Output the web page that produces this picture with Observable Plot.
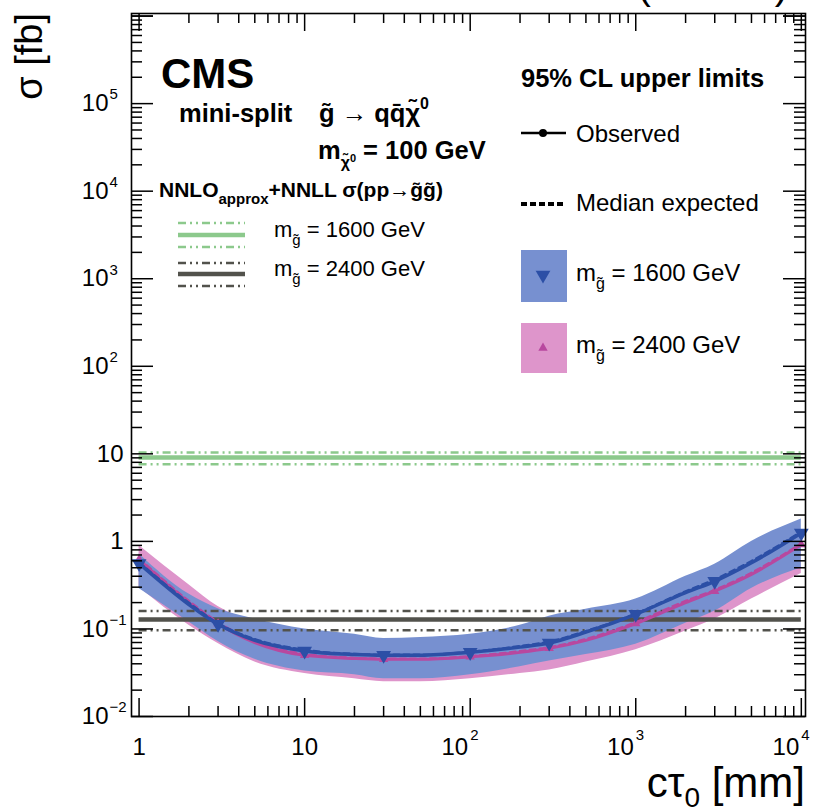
<!DOCTYPE html>
<html><head><meta charset="utf-8">
<script src="https://cdn.jsdelivr.net/npm/d3@7"></script>
<script src="https://cdn.jsdelivr.net/npm/@observablehq/plot@0.6"></script>
<style>
html,body{margin:0;padding:0;background:#fff;}
#chart{position:relative;width:823px;height:809px;overflow:hidden;}
</style></head><body><div id="chart"></div>
<script>
// ---- data ----
const ctau = [1, 2, 3, 5, 10, 20, 30, 50, 100, 200, 300, 500, 1000, 2000, 3000, 5000, 10000];
const markerCtau = [1, 3, 10, 30, 100, 300, 1000, 3000, 10000];
// m_gluino = 1600 GeV
const obs1600 = [0.56, 0.19, 0.113, 0.074, 0.056, 0.051, 0.050, 0.050, 0.054, 0.062, 0.069, 0.092, 0.147, 0.26, 0.35, 0.57, 1.25];
const exp1600 = [0.58, 0.20, 0.117, 0.077, 0.058, 0.052, 0.051, 0.051, 0.055, 0.064, 0.072, 0.095, 0.150, 0.27, 0.37, 0.60, 1.30];
const up1600  = [0.72, 0.25, 0.17, 0.13, 0.10, 0.087, 0.078, 0.080, 0.087, 0.11, 0.14, 0.168, 0.22, 0.40, 0.55, 1.0, 1.8];
const lo1600  = [0.29, 0.12, 0.072, 0.045, 0.033, 0.030, 0.027, 0.027, 0.030, 0.037, 0.043, 0.051, 0.067, 0.116, 0.16, 0.29, 0.50];
// m_gluino = 2400 GeV
const obs2400 = [0.62, 0.20, 0.115, 0.070, 0.050, 0.046, 0.045, 0.045, 0.048, 0.054, 0.060, 0.074, 0.115, 0.20, 0.27, 0.42, 0.92];
const exp2400 = [0.64, 0.21, 0.120, 0.073, 0.052, 0.047, 0.046, 0.046, 0.049, 0.056, 0.062, 0.077, 0.120, 0.21, 0.28, 0.44, 0.95];
const up2400  = [0.90, 0.32, 0.18, 0.12, 0.088, 0.075, 0.070, 0.070, 0.075, 0.090, 0.10, 0.125, 0.18, 0.31, 0.42, 0.68, 1.35];
const lo2400  = [0.30, 0.11, 0.068, 0.042, 0.031, 0.027, 0.025, 0.025, 0.027, 0.031, 0.034, 0.042, 0.058, 0.095, 0.13, 0.22, 0.43];
// NNLO_approx+NNLL cross sections [fb]: central, up, down
const xsec1600 = [9.07, 10.35, 7.63];
const xsec2400 = [0.128, 0.160, 0.0966];
// tick labels
const yTickVals = [1e-2, 1e-1, 1, 10, 1e2, 1e3, 1e4, 1e5];
const yTickBase = ["10", "10", "1", "10", "10", "10", "10", "10"];
const yTickExp  = ["\u22122", "\u22121", "", "", "2", "3", "4", "5"];
const xTickVals = [1, 10, 100, 1000, 10000];
const xTickBase = ["1", "10", "10", "10", "10"];
const xTickExp  = ["", "", "2", "3", "4"];

// ---- styling ----
const BLUE = "#2c4fa6", MAGENTA = "#b8489f", GREEN = "#8cc98c", GRAY = "#52524c";
const BAND_BLUE = "#7790d0", BAND_PINK = "#de95cb";
const W = 823, H = 809, mL = 131, mR = 18, mT = 13, mB = 93;
const innerW = W - mL - mR, innerH = H - mT - mB;
const xDomain = [0.9, 1.06e4], yDomain = [0.01, 1.07e6];

const rows = (o, e, u, l) => ctau.map((c, i) => ({ctau: c, obs: o[i], exp: e[i], up: u[i], lo: l[i]}));
const rows1600 = rows(obs1600, exp1600, up1600, lo1600);
const rows2400 = rows(obs2400, exp2400, up2400, lo2400);
const mk1600 = rows1600.filter(d => markerCtau.includes(d.ctau));
const mk2400 = rows2400.filter(d => markerCtau.includes(d.ctau));

const triDown = {draw(ctx, size) {
  const a = Math.sqrt(4 * size / Math.sqrt(3)), h = Math.sqrt(3) / 2 * a;
  ctx.moveTo(0, 2 * h / 3); ctx.lineTo(-a / 2, -h / 3); ctx.lineTo(a / 2, -h / 3); ctx.closePath();
}};
const triUp = {draw(ctx, size) {
  const a = Math.sqrt(4 * size / Math.sqrt(3)), h = Math.sqrt(3) / 2 * a;
  ctx.moveTo(0, -2 * h / 3); ctx.lineTo(-a / 2, h / 3); ctx.lineTo(a / 2, h / 3); ctx.closePath();
}};

// ticks (all four sides, inside)
const allTicksX = d3.scaleLog().domain(xDomain).ticks().filter(v => v > xDomain[0] && v < xDomain[1]);
const allTicksY = d3.scaleLog().domain(yDomain).ticks().filter(v => v > yDomain[0] && v < yDomain[1]);
const isMajor = v => Math.abs(Math.log10(v) - Math.round(Math.log10(v))) < 1e-9;
const xMaj = [...allTicksX.filter(isMajor)], xMin = allTicksX.filter(v => !isMajor(v));
const yMaj = [1e-2, ...allTicksY.filter(isMajor), 1e6].filter(v => v <= yDomain[1]), yMin = allTicksY.filter(v => !isMajor(v));
const tk = {stroke: "black", strokeWidth: 1.5};
const dash = "8,4,2,4,2,4";
const curve = "monotone-x";

const yRows = yTickVals.map((v, i) => ({v, b: yTickBase[i], e: yTickExp[i]}));
const xRows = xTickVals.map((v, i) => ({v, b: xTickBase[i], e: xTickExp[i]}));

const chart = Plot.plot({
  width: W, height: H, marginLeft: mL, marginRight: mR, marginTop: mT, marginBottom: mB,
  style: {fontFamily: "'Liberation Sans', Arial, Helvetica, sans-serif", background: "white", overflow: "visible"},
  x: {type: "log", domain: xDomain, axis: null},
  y: {type: "log", domain: yDomain, axis: null},
  marks: [
    Plot.areaY(rows2400, {x: "ctau", y1: "lo", y2: "up", fill: BAND_PINK, curve}),
    Plot.areaY(rows1600, {x: "ctau", y1: "lo", y2: "up", fill: BAND_BLUE, curve}),
    Plot.ruleY([xsec1600[0]], {y: d => d, x1: ctau[0], x2: ctau[ctau.length - 1], stroke: GREEN, strokeWidth: 4.5}),
    Plot.ruleY(xsec1600.slice(1), {y: d => d, x1: ctau[0], x2: ctau[ctau.length - 1], stroke: GREEN, strokeWidth: 2.5, strokeDasharray: dash}),
    Plot.ruleY([xsec2400[0]], {y: d => d, x1: ctau[0], x2: ctau[ctau.length - 1], stroke: GRAY, strokeWidth: 4.5}),
    Plot.ruleY(xsec2400.slice(1), {y: d => d, x1: ctau[0], x2: ctau[ctau.length - 1], stroke: GRAY, strokeWidth: 2.5, strokeDasharray: dash}),
    Plot.line(rows2400, {x: "ctau", y: "exp", stroke: MAGENTA, strokeWidth: 2, strokeDasharray: "6,4", curve}),
    Plot.line(rows2400, {x: "ctau", y: "obs", stroke: MAGENTA, strokeWidth: 3, curve}),
    Plot.dot(mk2400, {x: "ctau", y: "obs", symbol: triUp, r: 3.5, fill: MAGENTA, stroke: "none"}),
    Plot.line(rows1600, {x: "ctau", y: "exp", stroke: BLUE, strokeWidth: 2, strokeDasharray: "6,4", curve}),
    Plot.line(rows1600, {x: "ctau", y: "obs", stroke: BLUE, strokeWidth: 3.5, curve}),
    Plot.dot(mk1600, {x: "ctau", y: "obs", symbol: triDown, r: 5.5, fill: BLUE, stroke: "none"}),
    // ticks
    Plot.tickX(xMaj, {x: d => d, insetTop: innerH - 18, ...tk}),
    Plot.tickX(xMin, {x: d => d, insetTop: innerH - 10, ...tk}),
    Plot.tickX(xMaj, {x: d => d, insetBottom: innerH - 18, ...tk}),
    Plot.tickX(xMin, {x: d => d, insetBottom: innerH - 10, ...tk}),
    Plot.tickY(yMaj, {y: d => d, insetRight: innerW - 22, ...tk}),
    Plot.tickY(yMin, {y: d => d, insetRight: innerW - 11, ...tk}),
    Plot.tickY(yMaj, {y: d => d, insetLeft: innerW - 22, ...tk}),
    Plot.tickY(yMin, {y: d => d, insetLeft: innerW - 11, ...tk}),
    Plot.frame({stroke: "black", strokeWidth: 1.6}),
    // tick labels
    Plot.text(yRows.filter(d => d.e), {y: "v", text: "b", frameAnchor: "left", textAnchor: "end", dx: -23, fontSize: 24, fill: "black"}),
    Plot.text(yRows.filter(d => d.e), {y: "v", text: "e", frameAnchor: "left", textAnchor: "start", dx: -22, dy: -9, fontSize: 15, fill: "black"}),
    Plot.text(yRows.filter(d => !d.e), {y: "v", text: "b", frameAnchor: "left", textAnchor: "end", dx: -8, fontSize: 24, fill: "black"}),
    Plot.text(xRows.filter(d => d.e), {x: "v", text: "b", frameAnchor: "bottom", textAnchor: "end", lineAnchor: "top", dx: -2, dy: 21, fontSize: 24, fill: "black"}),
    Plot.text(xRows.filter(d => d.e), {x: "v", text: "e", frameAnchor: "bottom", textAnchor: "start", lineAnchor: "top", dx: 0, dy: 13, fontSize: 15, fill: "black"}),
    Plot.text(xRows.filter(d => !d.e), {x: "v", text: "b", frameAnchor: "bottom", textAnchor: "middle", lineAnchor: "top", dy: 21, fontSize: 24, fill: "black"})
  ]
});
document.getElementById("chart").append(chart);

// ---- annotations & legends ----
const svg = d3.select(chart);
const g = svg.append("g").attr("font-family", "'Liberation Sans', Arial, Helvetica, sans-serif").attr("fill", "black");
function txt(x, y, parts, o = {}) {
  const t = g.append("text").attr("x", x).attr("y", y).attr("font-size", o.size || 22)
    .attr("font-weight", o.weight || "normal").attr("text-anchor", o.anchor || "start");
  if (o.transform) t.attr("transform", o.transform);
  parts.forEach(p => {
    const s = t.append("tspan").text(p.t);
    if (p.size) s.attr("font-size", p.size);
    if (p.dy) s.attr("dy", p.dy);
    if (p.dx) s.attr("dx", p.dx);
    if (p.x != null) s.attr("x", p.x);
    if (p.weight) s.attr("font-weight", p.weight);
  });
  return t;
}
const line = (x1, x2, y, color, w, da) => {
  const l = g.append("line").attr("x1", x1).attr("x2", x2).attr("y1", y).attr("y2", y).attr("stroke", color).attr("stroke-width", w);
  if (da) l.attr("stroke-dasharray", da);
};

// top energy label (cut by the top edge, as in the reference)
txt(788, -1, [{t: "137 fb"}, {t: "\u22121", dy: -16, size: 26}, {t: " (13 TeV)", dy: 16}], {size: 40, anchor: "end"});
// axis titles
txt(0, 0, [{t: "\u03c3 [fb]"}], {size: 38, anchor: "end", transform: "translate(42,13) rotate(-90)"});
txt(805, 797, [{t: "c\u03c4"}, {t: "0", dy: 10, size: 28}, {t: " [mm]", dy: -10}], {size: 42, anchor: "end"});

// left block
txt(161, 88, [{t: "CMS"}], {size: 42, weight: "bold"});
txt(179, 122, [{t: "mini-split"}, {t: "g\u0303 \u2192 qq\u0304\u03c7\u0303", x: 319}, {t: "0", dy: -13, size: 16}], {size: 25.5, weight: "bold"});
txt(318, 159, [{t: "m"}, {t: "\u03c7\u0303", dy: 9, size: 16}, {t: "0", dy: -6, size: 11}, {t: " = 100 GeV", dy: -3}], {size: 25.5, weight: "bold"});
txt(159, 197, [{t: "NNLO"}, {t: "approx", dy: 7, size: 15}, {t: "+NNLL \u03c3(pp\u2192g\u0303g\u0303)", dy: -7}], {size: 21, weight: "bold"});
line(178, 245, 223, GREEN, 2.5, dash); line(178, 245, 235, GREEN, 4.5); line(178, 245, 247, GREEN, 2.5, dash);
line(178, 245, 263, GRAY, 2.5, dash); line(178, 245, 274, GRAY, 4.5); line(178, 245, 286, GRAY, 2.5, dash);
txt(274, 237, [{t: "m"}, {t: "g\u0303", dy: 8, size: 15}, {t: " = 1600 GeV", dy: -8}], {size: 22});
txt(274, 276, [{t: "m"}, {t: "g\u0303", dy: 8, size: 15}, {t: " = 2400 GeV", dy: -8}], {size: 22});

// right block
txt(521, 87, [{t: "95% CL upper limits"}], {size: 25.5, weight: "bold"});
line(521, 566, 133, "black", 2.5);
g.append("circle").attr("cx", 543).attr("cy", 133).attr("r", 4).attr("fill", "black");
txt(576, 142, [{t: "Observed"}], {size: 24});
line(521, 566, 204, "black", 4, "6,3");
txt(576, 211, [{t: "Median expected"}], {size: 24});
g.append("rect").attr("x", 521).attr("y", 250).attr("width", 46).attr("height", 52).attr("fill", BAND_BLUE);
g.append("path").attr("transform", "translate(543,275)").attr("d", d3.symbol(triDown, Math.PI * 30)()).attr("fill", BLUE);
txt(576, 281, [{t: "m"}, {t: "g\u0303", dy: 8, size: 16}, {t: " = 1600 GeV", dy: -8}], {size: 24});
g.append("rect").attr("x", 521).attr("y", 323).attr("width", 46).attr("height", 50).attr("fill", BAND_PINK);
g.append("path").attr("transform", "translate(543,348)").attr("d", d3.symbol(triUp, Math.PI * 12)()).attr("fill", MAGENTA);
txt(576, 353, [{t: "m"}, {t: "g\u0303", dy: 8, size: 16}, {t: " = 2400 GeV", dy: -8}], {size: 24});
</script></body></html>
